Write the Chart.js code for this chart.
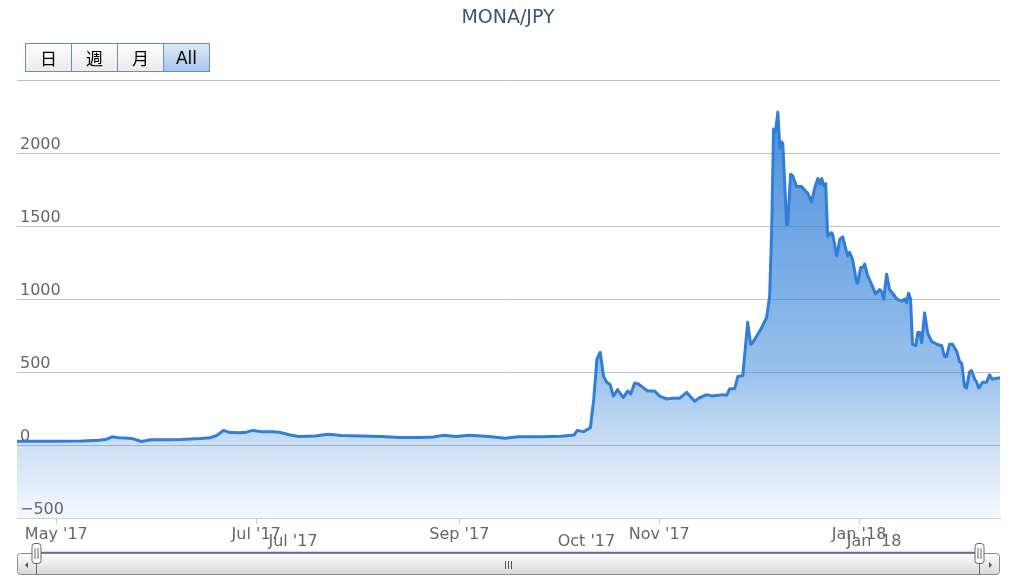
<!DOCTYPE html>
<html>
<head>
<meta charset="utf-8">
<script src="https://cdn.jsdelivr.net/npm/chart.js@4.4.0/dist/chart.umd.min.js"></script>
<style>
  html, body { margin: 0; padding: 0; background: #fff; }
  #wrap { position: relative; width: 1024px; height: 588px; }
  #grafico { position: absolute; left: 0; top: 0; }
  #titulo {
    position: absolute; top: 5px; left: 0; width: 1016px; text-align: center;
    font: 19px "DejaVu Sans", sans-serif; color: #34577a;
  }
  #botoes { position: absolute; left: 25px; top: 43px; display: flex; }
  .btn {
    box-sizing: border-box; width: 47px; height: 29px; margin-left: -1px;
    border: 1px solid #6d8cb3; background: linear-gradient(#fdfdfd, #ebebeb);
    font: 17px "DejaVu Sans", "Noto Sans CJK JP", sans-serif; color: #000;
    display: flex; align-items: center; justify-content: center;
  }
  .btn:first-child { margin-left: 0; }
  .btn.sel { background: linear-gradient(#dde9f8, #a8c6ee); }
</style>
</head>
<body>
<div id="wrap">
  <canvas id="grafico" width="1024" height="588"></canvas>
  <div id="titulo">MONA/JPY</div>
  <div id="botoes">
    <div class="btn">日</div>
    <div class="btn">週</div>
    <div class="btn">月</div>
    <div class="btn sel">All</div>
  </div>
</div>
<script>
// dias contados a partir de 19/04/2017
const dias = [
  0, 10, 20, 25, 27, 29, 31, 33, 35, 38, 41, 46, 50, 56, 59, 61, 63, 65, 68, 70,
  72, 75, 78, 80, 83, 86, 91, 95, 99, 105, 111, 117, 123, 127, 130, 134, 138, 144, 149, 153,
  160, 166, 170, 171, 173, 175, 176, 177, 178, 179, 180, 181, 182, 183.3, 185, 186.4, 187.3, 188.5, 189.5, 191,
  192.5, 194.6, 196.1, 198.3, 200, 202.2, 204.4, 206.8, 208.4, 210.5, 212.3, 215.4, 216.6, 217.5, 219, 220, 221.5, 223, 223.9, 224.5,
  225.7, 227.3, 228.8, 229.7, 230.3, 230.9, 231.5, 232.2, 232.8, 233.4, 233.7, 234.9, 235.2, 236.1, 236.7, 237.9, 239.5, 240.4, 241.3, 242.5,
  243.4, 244.4, 245, 245.6, 246.2, 246.8, 247.4, 248.6, 248.9, 250.2, 251.1, 252, 253.2, 253.5, 254.1, 255, 256.3, 256.6, 257.5, 258.1,
  258.7, 259.6, 260.8, 262, 263.3, 263.9, 264.5, 265.4, 266.3, 267.2, 268.5, 270, 270.9, 271.5, 272.1, 272.7, 273.3, 274.3, 274.9, 275.5,
  276.1, 277, 277.9, 279.1, 280.7, 282.2, 283.1, 283.7, 284.6, 285.5, 286.8, 287.7, 288.3, 289.2, 289.8, 290.7, 291.3, 292.3, 292.9, 293.5,
  294.7, 295.9, 296.8, 297.7, 298.7, 300
];
const precos = [
  26, 26, 27, 33, 37, 56, 50, 48, 45, 24, 36, 36, 38, 45, 50, 65, 100, 85, 84, 88,
  100, 90, 90, 88, 70, 58, 62, 74, 65, 62, 58, 51, 51, 55, 66, 58, 66, 58, 46, 56,
  57, 60, 68, 100, 90, 120, 310, 590, 635, 470, 430, 415, 335, 380, 325, 370, 350, 425, 420, 395,
  370, 370, 335, 315, 320, 320, 360, 300, 325, 345, 335, 345, 340, 385, 385, 470, 475, 840, 690, 700,
  745, 805, 875, 1020, 1455, 2165, 2150, 2280, 2030, 2075, 2065, 1510, 1510, 1855, 1845, 1770, 1770, 1745, 1725, 1665,
  1755, 1825, 1790, 1825, 1775, 1790, 1430, 1455, 1445, 1295, 1410, 1425, 1320, 1295, 1320, 1270, 1110, 1110, 1215, 1215,
  1240, 1160, 1100, 1035, 1065, 1050, 1000, 1170, 1065, 1040, 1000, 985, 1000, 975, 1040, 1000, 690, 680, 770, 770,
  700, 905, 770, 710, 690, 680, 605, 605, 690, 690, 640, 570, 560, 400, 390, 500, 510, 450, 430, 390,
  430, 430, 480, 450, 455, 460
];

const diasTicks = [12, 73, 135, 196, 257];
const rotulosTicks = ["May '17", "Jul '17", "Sep '17", "Nov '17", "Jan '18"];
const diasNavegador = [73, 165, 257];
const rotulosNavegador = ["Jul '17", "Oct '17", "Jan '18"];
const valoresY = [-500, 0, 500, 1000, 1500, 2000, 2500];
const rotulosY = ["\u2212500", "0", "500", "1000", "1500", "2000", ""];

const fonte = '"DejaVu Sans", sans-serif';

function preenchimento(context) {
  const area = context.chart.chartArea;
  if (!area) return "rgba(47,126,216,0.5)";
  const g = context.chart.ctx.createLinearGradient(0, area.top, 0, area.bottom);
  g.addColorStop(0, "rgba(47,126,216,0.95)");
  g.addColorStop(0.16, "rgba(47,126,216,0.8)");
  g.addColorStop(0.5, "rgba(47,126,216,0.6)");
  g.addColorStop(0.67, "rgba(47,126,216,0.48)");
  g.addColorStop(0.83, "rgba(47,126,216,0.25)");
  g.addColorStop(1, "rgba(47,126,216,0.05)");
  return g;
}

// barra de rolagem e rótulos do navegador (desenhados por baixo do eixo x)
const navegador = {
  id: "navegador",
  afterDraw(chart) {
    const ctx = chart.ctx;
    const esq = 17, dir = 1000, topo = 553, base = 575;
    const navEsq = 36, navDir = 979;
    const escalaX = chart.scales.x;
    const xNav = (d) => navEsq + (d - escalaX.min) / (escalaX.max - escalaX.min) * (navDir - navEsq);

    ctx.save();
    // rótulos do eixo do navegador
    ctx.font = "16px " + fonte;
    ctx.fillStyle = "#666";
    ctx.textAlign = "left";
    ctx.textBaseline = "middle";
    diasNavegador.forEach((d, i) => ctx.fillText(rotulosNavegador[i], xNav(d) + 3, 542));

    // trilho
    const g = ctx.createLinearGradient(0, topo, 0, base);
    g.addColorStop(0, "#fdfdfd");
    g.addColorStop(1, "#d8d8d8");
    ctx.fillStyle = g;
    ctx.strokeStyle = "#8a8a8a";
    ctx.lineWidth = 1;
    ctx.beginPath();
    ctx.roundRect(esq + 0.5, topo + 0.5, dir - esq - 1, base - topo - 1, 3);
    ctx.fill();
    ctx.stroke();

    // botões das setas
    ctx.beginPath();
    ctx.moveTo(navEsq + 0.5, topo); ctx.lineTo(navEsq + 0.5, base);
    ctx.moveTo(navDir + 0.5, topo); ctx.lineTo(navDir + 0.5, base);
    ctx.stroke();
    ctx.fillStyle = "#555";
    ctx.beginPath();
    ctx.moveTo(25, 565); ctx.lineTo(28, 562); ctx.lineTo(28, 568); ctx.closePath();
    ctx.moveTo(992, 565); ctx.lineTo(989, 562); ctx.lineTo(989, 568); ctx.closePath();
    ctx.fill();

    // linha azul do navegador
    ctx.strokeStyle = "#4a74aa";
    ctx.lineWidth = 1.5;
    ctx.beginPath();
    ctx.moveTo(navEsq, 552.5); ctx.lineTo(navDir, 552.5);
    ctx.stroke();

    // pegador central
    ctx.strokeStyle = "#555";
    ctx.lineWidth = 1;
    [-3, 0, 3].forEach((o) => {
      ctx.beginPath();
      ctx.moveTo(508.5 + o, 561); ctx.lineTo(508.5 + o, 569);
      ctx.stroke();
    });

    // alças
    [navEsq, navDir].forEach((x) => {
      ctx.strokeStyle = "#666";
      ctx.beginPath();
      ctx.moveTo(x + 0.5, 563); ctx.lineTo(x + 0.5, base);
      ctx.stroke();
      ctx.fillStyle = "#fff";
      ctx.beginPath();
      ctx.roundRect(x - 4, 543.5, 9, 20, 3);
      ctx.fill();
      ctx.stroke();
      ctx.beginPath();
      ctx.moveTo(x - 1, 548); ctx.lineTo(x - 1, 559);
      ctx.moveTo(x + 2, 548); ctx.lineTo(x + 2, 559);
      ctx.stroke();
    });
    ctx.restore();
  },
};

const ctx = document.getElementById("grafico");

new Chart(ctx, {
  type: "line",
  data: {
    datasets: [
      {
        label: "MONA/JPY",
        data: dias.map((d, i) => ({ x: d, y: precos[i] })),
        borderColor: "#2f7ed8",
        borderWidth: 3,
        borderJoinStyle: "round",
        backgroundColor: preenchimento,
        fill: "start",
        pointRadius: 0,
        tension: 0,
      },
    ],
  },
  plugins: [navegador],
  options: {
    responsive: false,
    animation: false,
    layout: { padding: { left: 17, right: 24, top: 80, bottom: 0 } },
    plugins: {
      legend: { display: false },
      tooltip: { enabled: false },
    },
    scales: {
      x: {
        type: "linear",
        min: 0,
        max: 300,
        afterBuildTicks: (scale) => {
          scale.ticks = diasTicks.map((v) => ({ value: v }));
        },
        afterFit: (scale) => {
          scale.height = 70;
        },
        ticks: {
          autoSkip: false,
          maxRotation: 0,
          padding: 1,
          color: "#666",
          font: { family: fonte, size: 16 },
          callback: (v, i) => rotulosTicks[i],
        },
        grid: { drawOnChartArea: false, color: "#c0d0e0", tickLength: 6 },
        border: { color: "#c0d0e0", width: 1 },
      },
      y: {
        min: -500,
        max: 2500,
        afterBuildTicks: (scale) => {
          scale.ticks = valoresY.map((v) => ({ value: v }));
        },
        afterFit: (scale) => {
          scale.width = 0;
        },
        ticks: {
          mirror: true,
          padding: 3,
          labelOffset: -8,
          color: "#666",
          font: { family: fonte, size: 16 },
          callback: (v, i) => rotulosY[i],
        },
        grid: { color: "#c0c0c0", drawTicks: false },
        border: { display: false },
      },
    },
  },
});
</script>
</body>
</html>
